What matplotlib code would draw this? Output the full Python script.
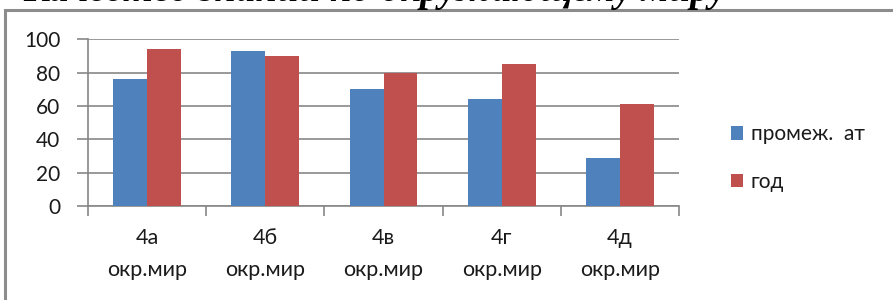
import numpy as np
import matplotlib
matplotlib.use('Agg')
import matplotlib.pyplot as plt
from matplotlib.patches import Rectangle

# Данные
categories = ['4а\nокр.мир', '4б\nокр.мир', '4в\nокр.мир', '4г\nокр.мир', '4д\nокр.мир']
promezh = [76, 93, 70, 64, 29]
god = [94, 90, 80, 85, 61]
series_names = ['промеж.  ат', 'год']
title = 'Качество знаний по окружающему миру'

blue = '#4F81BD'
red = '#C0504D'
grid_c = '#878787'
text_c = '#1a1a1a'

plt.rcParams['font.family'] = ['Lato', 'DejaVu Sans']

fig = plt.figure(figsize=(8.93, 3.0), dpi=100)

# рамка диаграммы
fig.patches.append(Rectangle((5 / 893, -0.1), 1.0, 0.1 + (1 - 10 / 300),
                             transform=fig.transFigure, fill=False,
                             edgecolor='#8c8c8c', lw=2.2))

# обрезанный заголовок сверху
fig.text(375 / 893, 1 - 1.5 / 300, title, ha='center', va='baseline',
         fontsize=28, fontweight='bold', fontstyle='italic',
         family='Liberation Serif', color='black')

ax = fig.add_axes([88 / 893, 1 - 206 / 300, (679 - 88) / 893, (206 - 39.3) / 300])

x = np.arange(len(categories))
w = 0.286
ax.bar(x - w / 2, promezh, w, color=blue, label=series_names[0], zorder=3)
ax.bar(x + w / 2, god, w, color=red, label=series_names[1], zorder=3)

ax.set_xlim(-0.5, len(categories) - 0.5)
ax.set_ylim(0, 100)
ax.set_yticks(range(0, 101, 20))
ax.grid(axis='y', color=grid_c, lw=1.2, zorder=0)

ax.set_xticks(np.arange(-0.5, len(categories), 1.0))
ax.set_xticklabels([])
ax.set_xticks(x, minor=True)
ax.set_xticklabels(categories, minor=True, fontsize=15.5, color=text_c,
                   linespacing=1.75)
ax.tick_params(axis='x', which='minor', length=0, pad=16)
ax.tick_params(axis='x', which='major', length=7, color=grid_c, width=1.2)
ax.tick_params(axis='y', length=8, color=grid_c, width=1.2, labelsize=15,
               labelcolor=text_c, pad=12)

for s in ['top', 'right']:
    ax.spines[s].set_visible(False)
ax.spines['left'].set_color(grid_c)
ax.spines['bottom'].set_color(grid_c)
ax.spines['left'].set_linewidth(1.2)
ax.spines['bottom'].set_linewidth(1.2)

fig.legend(loc='center left', bbox_to_anchor=(712 / 893, 1 - 158 / 300),
           frameon=False, fontsize=15, handlelength=0.6, handleheight=0.6,
           handletextpad=0.35, labelspacing=1.3, labelcolor=text_c)

fig.savefig('out.png', dpi=100)
